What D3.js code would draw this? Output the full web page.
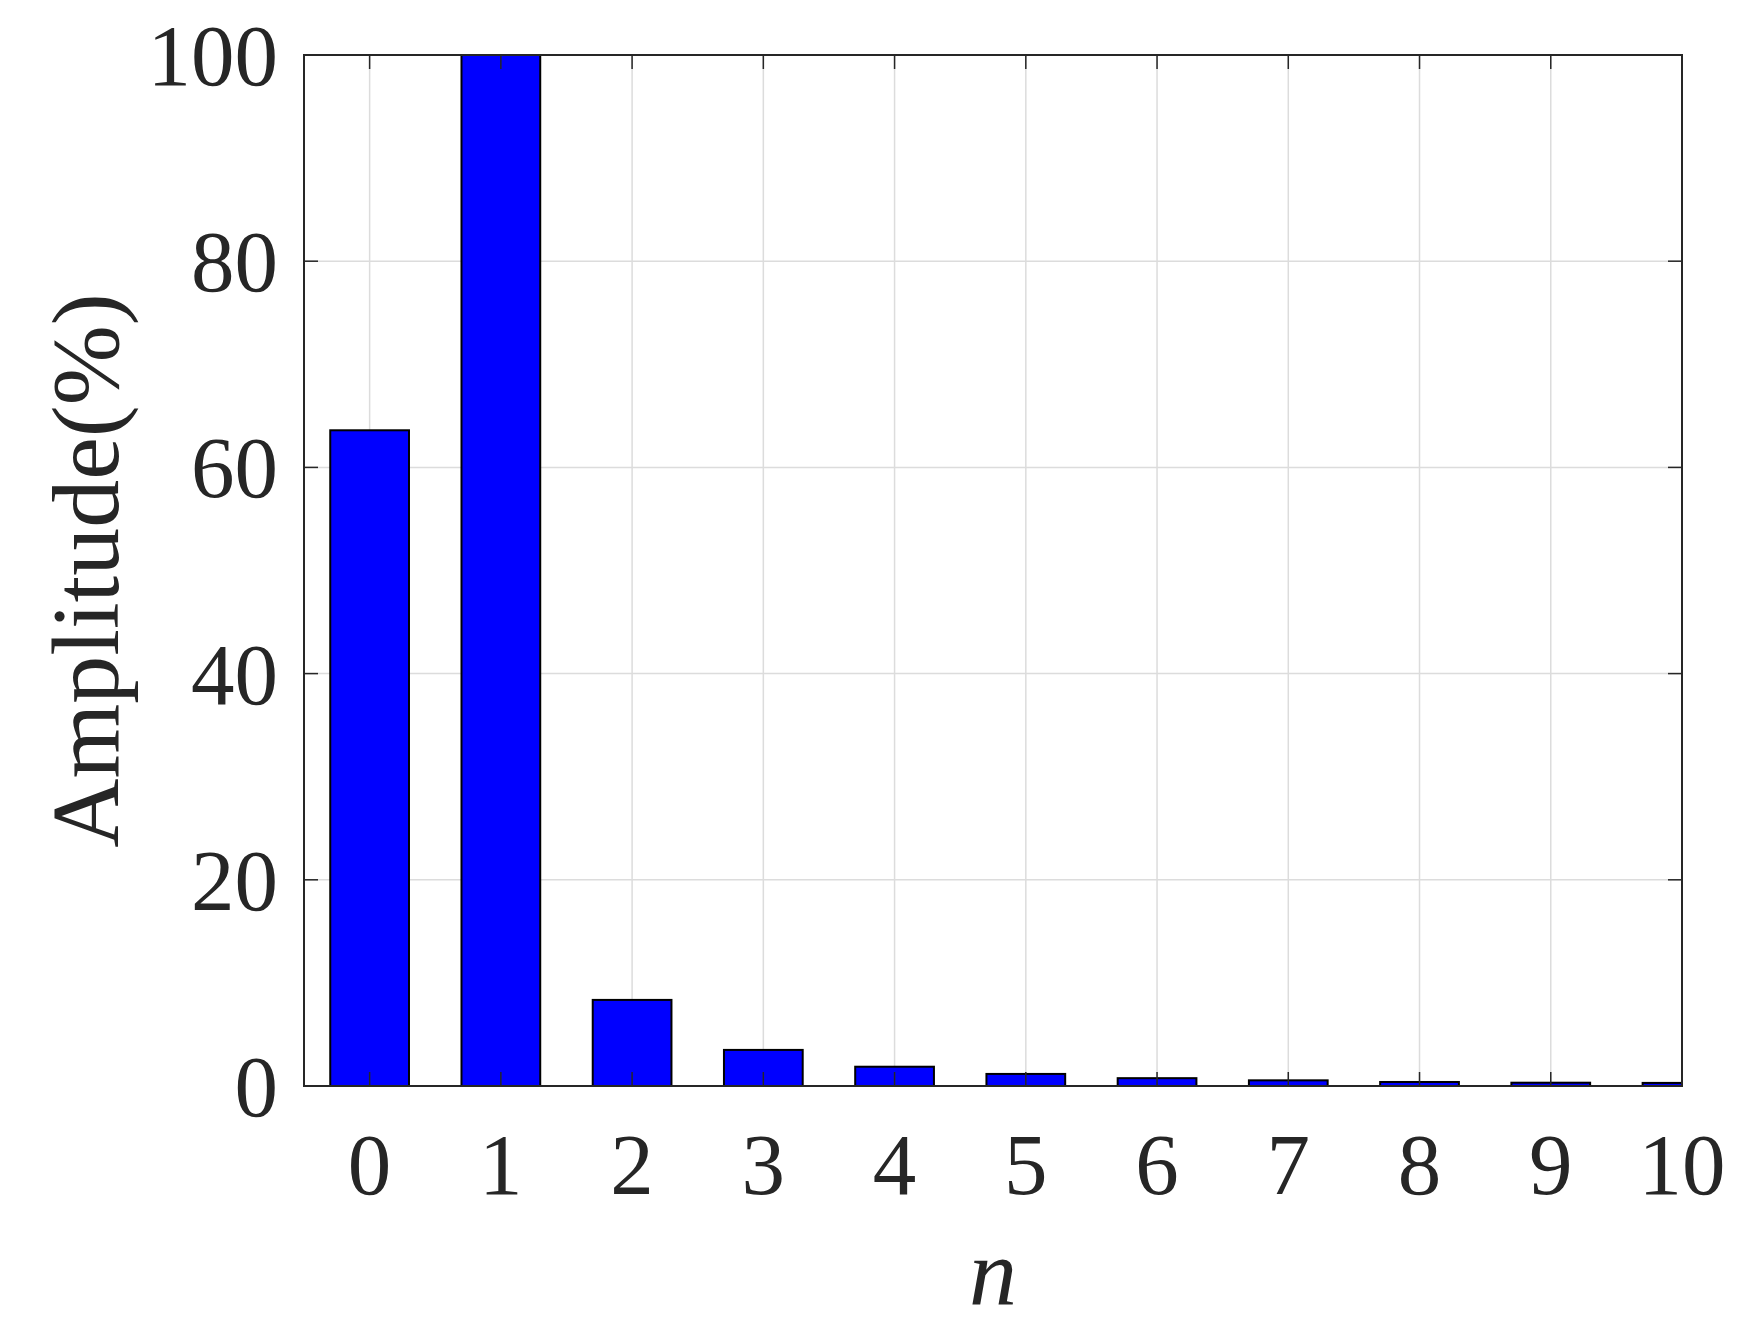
<!DOCTYPE html>
<html><head><meta charset="utf-8">
<script src="https://cdn.jsdelivr.net/npm/d3@7"></script>
<style>body{margin:0;background:#fff}</style>
</head><body>
<svg id="c" width="1750" height="1335"></svg>
<script>
const categories = [0,1,2,3,4,5,6,7,8,9,10];
const amplitudes = [63.6,100,8.35,3.5,1.87,1.17,0.76,0.55,0.39,0.32,0.3];
const xTicks = [0,1,2,3,4,5,6,7,8,9,10];
const yTicks = [0,20,40,60,80,100];

const svg = d3.select('#c');
const L=304, R=1682, T=55, B=1086;
const x = d3.scaleLinear().domain([-0.5,10]).range([L,R]);
const y = d3.scaleLinear().domain([0,100]).range([B,T]);
const barW = 0.6;
const ink = '#262626';
const font = '"Liberation Serif","Times New Roman",Times,serif';

svg.append('defs').append('clipPath').attr('id','clip')
  .append('rect').attr('x',L).attr('y',T).attr('width',R-L).attr('height',B-T);

// grid
const g = svg.append('g');
g.selectAll('.gx').data(xTicks).join('line')
  .attr('x1',d=>x(d)).attr('x2',d=>x(d)).attr('y1',T).attr('y2',B)
  .attr('stroke','#dcdcdc').attr('stroke-width',1.5);
g.selectAll('.gy').data(yTicks).join('line')
  .attr('x1',L).attr('x2',R).attr('y1',d=>y(d)).attr('y2',d=>y(d))
  .attr('stroke','#dcdcdc').attr('stroke-width',1.5);

// bars
svg.append('g').attr('clip-path','url(#clip)')
  .selectAll('rect').data(categories).join('rect')
  .attr('x',(d)=>x(d-barW/2)).attr('width',x(barW)-x(0))
  .attr('y',(d,i)=>y(amplitudes[i])).attr('height',(d,i)=>y(0)-y(amplitudes[i]))
  .attr('fill','#0000ff').attr('stroke','#000').attr('stroke-width',2);

// ticks
const tl = 14;
const tk = svg.append('g').attr('stroke',ink).attr('stroke-width',1.5);
xTicks.forEach(v=>{
  tk.append('line').attr('x1',x(v)).attr('x2',x(v)).attr('y1',B).attr('y2',B-tl);
  tk.append('line').attr('x1',x(v)).attr('x2',x(v)).attr('y1',T).attr('y2',T+tl);
});
yTicks.forEach(v=>{
  tk.append('line').attr('x1',L).attr('x2',L+tl).attr('y1',y(v)).attr('y2',y(v));
  tk.append('line').attr('x1',R).attr('x2',R-tl).attr('y1',y(v)).attr('y2',y(v));
});
// box
svg.append('rect').attr('x',L).attr('y',T).attr('width',R-L).attr('height',B-T)
  .attr('fill','none').attr('stroke',ink).attr('stroke-width',2);

// tick labels
svg.append('g').selectAll('text').data(xTicks).join('text')
  .attr('x',d=>x(d)).attr('y',1194).attr('text-anchor','middle')
  .attr('font-family',font).attr('font-size',87).attr('fill',ink).text(d=>d);
svg.append('g').selectAll('text').data(yTicks).join('text')
  .attr('x',278).attr('y',d=>y(d)+30).attr('text-anchor','end')
  .attr('font-family',font).attr('font-size',87).attr('fill',ink).text(d=>d);

// axis labels
svg.append('text').attr('x',(L+R)/2).attr('y',1305).attr('text-anchor','middle')
  .attr('font-family',font).attr('font-style','italic').attr('font-size',96).attr('fill',ink).text('n');
svg.append('text').attr('transform',`translate(118,${(T+B)/2}) rotate(-90)`)
  .attr('text-anchor','middle').attr('font-family',font).attr('font-size',96).attr('fill',ink)
  .text('Amplitude(%)');
</script>
</body></html>
